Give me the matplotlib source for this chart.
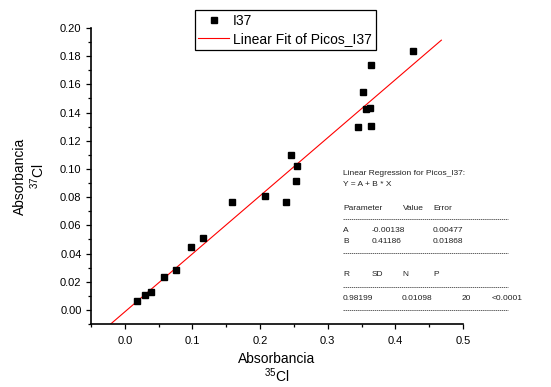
import numpy as np
import matplotlib
matplotlib.use("Agg")
import matplotlib.pyplot as plt
from matplotlib.lines import Line2D
from matplotlib.ticker import MultipleLocator

plt.rcParams['font.family'] = ['Liberation Sans', 'DejaVu Sans']
plt.rcParams['mathtext.fontset'] = 'custom'
plt.rcParams['mathtext.rm'] = 'Liberation Sans'

# Datos
abs_35 = [0.0182, 0.0305, 0.0394, 0.0586, 0.0754, 0.0985, 0.1158, 0.1581, 0.2079, 0.2384,
          0.2453, 0.2542, 0.2527, 0.3443, 0.3635, 0.3571, 0.3626, 0.3522, 0.3635, 0.4261]
abs_37 = [0.0061, 0.0109, 0.0128, 0.0236, 0.0281, 0.0444, 0.0508, 0.0768, 0.0811, 0.0768,
          0.1097, 0.1021, 0.0913, 0.1298, 0.1307, 0.1426, 0.1430, 0.1544, 0.1735, 0.1835]

# Parametros del ajuste lineal (tal como aparecen en la tabla)
intercepto = -0.00138
pendiente = 0.41186
x_ajuste = [-0.025, 0.468]

# Texto de la tabla de regresion
param_nombres = ["A", "B"]
param_valores = ["-0.00138", "0.41186"]
param_errores = ["0.00477", "0.01868"]
stats_nombres = ["R", "SD", "N", "P"]
stats_valores = ["0.98199", "0.01098", "20", "<0.0001"]

W, H = 551, 387
fig = plt.figure(figsize=(W / 100, H / 100), dpi=100)
ax = fig.add_axes([91 / W, 1 - 324 / H, (463 - 91) / W, (324 - 28) / H])


def px(x, y):
    return x / W, 1 - y / H


ax.plot(abs_35, abs_37, 's', color='black', markersize=4.5, label='I37', zorder=3)
xa = np.array(x_ajuste)
ax.plot(xa, intercepto + pendiente * xa, '-', color='red', linewidth=0.8,
        label='Linear Fit of Picos_I37')

ax.set_xlim(-0.05, 0.5)
ax.set_ylim(-0.01, 0.20)
ax.xaxis.set_major_locator(MultipleLocator(0.1))
ax.xaxis.set_minor_locator(MultipleLocator(0.05))
ax.yaxis.set_major_locator(MultipleLocator(0.02))
ax.yaxis.set_minor_locator(MultipleLocator(0.01))
ax.xaxis.set_major_formatter(lambda v, p: f"{v:.1f}")
ax.yaxis.set_major_formatter(lambda v, p: f"{v:.2f}")

for s in ['top', 'right']:
    ax.spines[s].set_visible(False)
for s in ['left', 'bottom']:
    ax.spines[s].set_linewidth(1.2)
ax.tick_params(which='major', direction='out', length=3.8, width=0.9, labelsize=8)
ax.tick_params(which='minor', direction='out', length=2.2, width=0.9)
ax.tick_params(axis='y', pad=3)
ax.tick_params(axis='x', pad=5)

ax.set_xlabel("Absorbancia\n$^{35}$Cl", fontsize=10, labelpad=4, linespacing=1.05)
ax.set_ylabel("Absorbancia\n$^{37}$Cl", fontsize=10, labelpad=9, linespacing=1.1)

leg = ax.legend(loc='upper left', bbox_to_anchor=px(195, 10.5), bbox_transform=fig.transFigure,
                borderaxespad=0, fontsize=10, fancybox=False, edgecolor='black',
                framealpha=1, handlelength=2.2, handletextpad=0.3, labelspacing=0.3,
                borderpad=0.25)
leg.get_frame().set_linewidth(0.9)

# Tabla de regresion lineal
fs = 6
col = '#222222'
fig.text(*px(343, 173), "Linear Regression for Picos_I37:", fontsize=fs, color=col, va='center')
fig.text(*px(343, 184), "Y = A + B * X", fontsize=fs, color=col, va='center')
fig.text(*px(343, 208), "Parameter", fontsize=fs, color=col, va='center')
fig.text(*px(403, 208), "Value", fontsize=fs, color=col, va='center')
fig.text(*px(433, 208), "Error", fontsize=fs, color=col, va='center')
for i, (n, v, e) in enumerate(zip(param_nombres, param_valores, param_errores)):
    y = 230 + i * 11.3
    fig.text(*px(343, y), n, fontsize=fs, color=col, va='center')
    fig.text(*px(372, y), v, fontsize=fs, color=col, va='center')
    fig.text(*px(433, y), e, fontsize=fs, color=col, va='center')
for n, x in zip(stats_nombres, [343, 372, 402, 433]):
    fig.text(*px(x, 275), n, fontsize=fs, color=col, va='center')
for v, x in zip(stats_valores, [343, 402, 462, 492]):
    fig.text(*px(x, 298), v, fontsize=fs, color=col, va='center')
for y in [219, 253, 287, 310]:
    x0, y0 = px(343, y)
    x1, _ = px(508, y)
    fig.add_artist(Line2D([x0, x1], [y0, y0], transform=fig.transFigure, color=col,
                          linewidth=0.5, linestyle=(0, (2, 1))))

fig.savefig("out.png", dpi=100)
